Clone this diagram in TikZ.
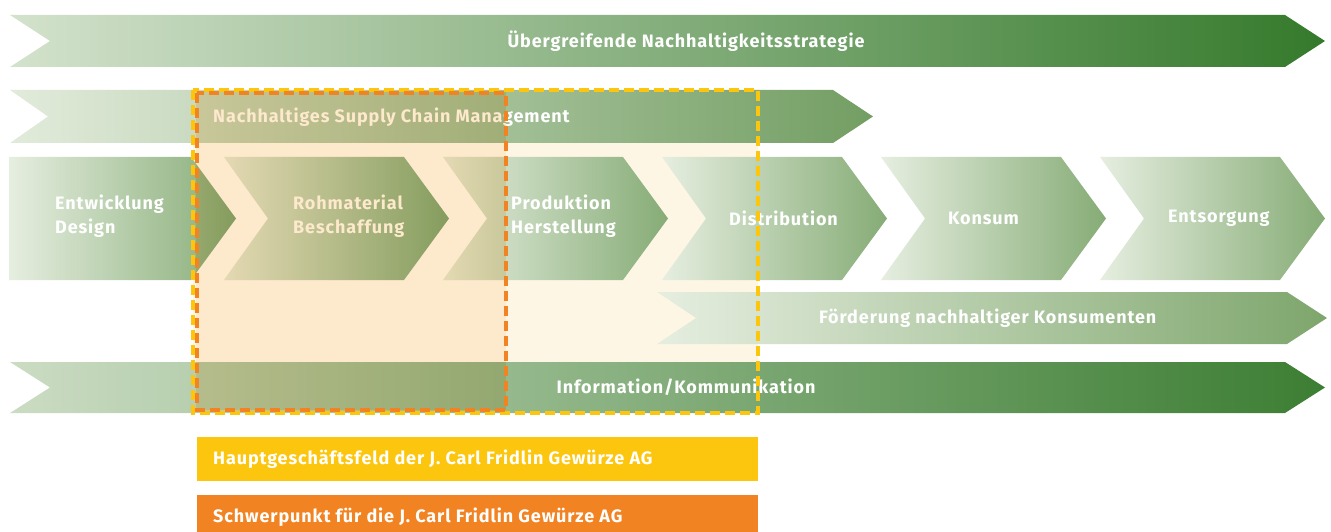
\documentclass[tikz,border=0pt]{standalone}
\usepackage{fontspec}
\setmainfont{Fira Sans}[LetterSpace=5]
\usetikzlibrary{calc}

\definecolor{stratlight}{HTML}{D3E2CC}
\definecolor{stratdark}{HTML}{357A2C}
\definecolor{scmlight}{HTML}{E2EBDB}
\definecolor{scmdark}{HTML}{739E63}
\definecolor{chevlight}{HTML}{E6EEE0}
\definecolor{chevdark}{HTML}{86AC76}
\definecolor{foerddark}{HTML}{7EA66C}
\definecolor{infolight}{HTML}{CBDCC3}
\definecolor{infodark}{HTML}{3C7E33}
\definecolor{creamback}{HTML}{FEF6E5}
\definecolor{peachback}{HTML}{FDE9CC}
\definecolor{keyyellow}{HTML}{FDC60E}
\definecolor{keyorange}{HTML}{F28322}

\tikzset{
	txt/.style={text=white,font=\bfseries\fontsize{18}{24}\selectfont,inner sep=0pt,align=left},
	chevshade/.style={left color=chevlight,right color=chevdark},
	frame/.style={line width=3.5pt,dash pattern=on 10pt off 5pt}
}

\begin{document}
\begin{tikzpicture}[x=1pt,y=-1pt]
	\useasboundingbox (0,0) rectangle (1331,532);
	% area behind the main field
	\fill[creamback] (193,90) rectangle (758,413);
	\fill[white] (196,92) rectangle (506,410);
	% long bands
	\shade[left color=stratlight,right color=stratdark] (10,15) -- (1285,15) -- (1325,41) -- (1285,67) -- (10,67) -- (50,41) -- cycle;
	\shade[left color=scmlight,right color=scmdark] (10,90) -- (833,90) -- (873,116.5) -- (833,143) -- (10,143) -- (48,116.5) -- cycle;
	\shade[left color=chevlight,right color=foerddark] (657,292) -- (1287,292) -- (1327,318) -- (1287,344) -- (657,344) -- (696,318) -- cycle;
	\shade[left color=infolight,right color=infodark] (10,362) -- (1285,362) -- (1325,387.5) -- (1285,413) -- (10,413) -- (50,387.5) -- cycle;
	% value chain
	\shade[chevshade] (9,157) -- (191,157) -- (236,218.5) -- (191,280) -- (9,280) -- cycle;
	\foreach \l in {224,443,662,881,1100}
		\shade[chevshade] (\l,157) -- ({\l+180},157) -- ({\l+225},218.5) -- ({\l+180},280) -- (\l,280) -- ({\l+44},218.5) -- cycle;
	% texts
	\node[txt] (strategy) at (686,41) {Übergreifende Nachhaltigkeitsstrategie};
	\node[txt,anchor=west] (scm) at (213,117) {Nachhaltiges Supply Chain Management};
	\node[txt,anchor=west] (design) at (55,216) {Entwicklung\\Design};
	\node[txt,anchor=west] (roh) at (293,216) {Rohmaterial\\Beschaffung};
	\node[txt,anchor=west] (prod) at (511,216) {Produktion\\Herstellung};
	\node[txt,anchor=west] (dist) at (729,218) {Distribution};
	\node[txt,anchor=west] (kons) at (948,218) {Konsum};
	\node[txt,anchor=west] (ents) at (1168,218) {Entsorgung};
	\node[txt,anchor=west] (foerd) at (819,318) {Förderung nachhaltiger Konsumenten};
	\node[txt] (info) at (686,387) {Information/Kommunikation};
	% focus area
	\begin{scope}[blend mode=multiply]
		\fill[peachback] (196,92) rectangle (506,410);
	\end{scope}
	\draw[keyyellow,frame] (193,90) rectangle (758,413);
	\draw[keyorange,frame] (197,93) rectangle (506,410);
	% legend
	\fill[keyyellow] (197,437) rectangle (758,481);
	\node[txt,anchor=west] (haupt) at (213,459.5) {Hauptgeschäftsfeld der J. Carl Fridlin Gewürze AG};
	\fill[keyorange] (197,495) rectangle (758,540);
	\node[txt,anchor=west] (schwer) at (213,517) {Schwerpunkt für die J. Carl Fridlin Gewürze AG};
\end{tikzpicture}
\end{document}
